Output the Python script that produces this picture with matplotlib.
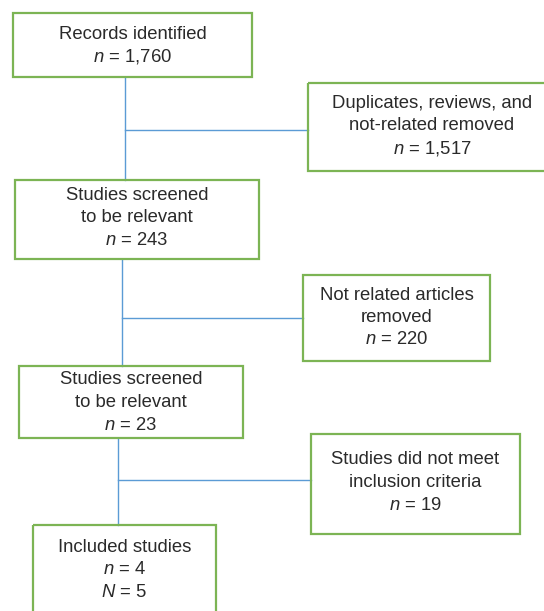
#! /usr/bin/env python
""" Flow diagram of the study selection (records -> included studies). """
import matplotlib.pyplot as plt
from matplotlib.patches import Rectangle

plt.rcParams['font.family'] = ['Liberation Sans', 'DejaVu Sans']
plt.rcParams['mathtext.fontset'] = 'custom'
plt.rcParams['mathtext.it'] = 'Liberation Sans:italic'
plt.rcParams['mathtext.rm'] = 'Liberation Sans'

# data
stage_labels = ["Records identified", "Studies screened\nto be relevant",
                "Studies screened\nto be relevant", "Included studies"]
stage_n = [1760, 243, 23, 4]
removed_labels = ["Duplicates, reviews, and\nnot-related removed",
                  "Not related articles\nremoved",
                  "Studies did not meet\ninclusion criteria"]
removed_n = [1517, 220, 19]
included_N = 5

# layout in pixels (x0, y0, x1, y1), image coords
stage_boxes = [(13, 13, 252, 77), (15, 180, 259, 259),
               (19, 366, 243, 438), (33, 525, 216, 640)]
stage_text_y = [45.5, 218, 402.5, 570]
removed_boxes = [(308, 83, 556, 171), (303, 275, 490, 361),
                 (311, 434, 520, 534)]
removed_text_y = [125.5, 317.5, 482.5]
trunk_x = [125, 122, 118]
branch_y = [130, 318, 480]

GREEN = "#7cb454"
BLUE = "#5b9bd5"
TXT = "#2a2a2a"
LINE_H = 22.5
FS = 13.35

W, H = 544, 611
fig = plt.figure(figsize=(W / 100, H / 100), dpi=100)
ax = fig.add_axes([0, 0, 1, 1])
ax.set_xlim(0, W)
ax.set_ylim(H, 0)
ax.axis("off")


def draw_box(box, lines, cy, cx=None):
    x0, y0, x1, y1 = box
    ax.add_patch(Rectangle((x0, y0), x1 - x0, y1 - y0, fill=False,
                           edgecolor=GREEN, linewidth=1.6, zorder=2))
    if cx is None:
        cx = (x0 + x1) / 2
    top = cy - LINE_H * (len(lines) - 1) / 2
    for i, line in enumerate(lines):
        ax.text(cx, top + i * LINE_H, line, ha="center", va="center",
                fontsize=FS, color=TXT, zorder=3)


# connectors
for i in range(3):
    top = stage_boxes[i][3]
    bottom = stage_boxes[i + 1][1]
    ax.plot([trunk_x[i], trunk_x[i]], [top, bottom], color=BLUE, lw=1.0,
            zorder=1)
    ax.plot([trunk_x[i], removed_boxes[i][0]], [branch_y[i], branch_y[i]],
            color=BLUE, lw=1.0, zorder=1)

for i, (label, n) in enumerate(zip(stage_labels, stage_n)):
    lines = label.split("\n") + [f"$n$ = {n:,}"]
    if i == len(stage_labels) - 1:
        lines.append(f"$N$ = {included_N}")
    draw_box(stage_boxes[i], lines, stage_text_y[i])

removed_cx = [432, None, None]
for i, (label, n) in enumerate(zip(removed_labels, removed_n)):
    lines = label.split("\n") + [f"$n$ = {n:,}"]
    draw_box(removed_boxes[i], lines, removed_text_y[i], removed_cx[i])

fig.savefig("out.png", dpi=100)
